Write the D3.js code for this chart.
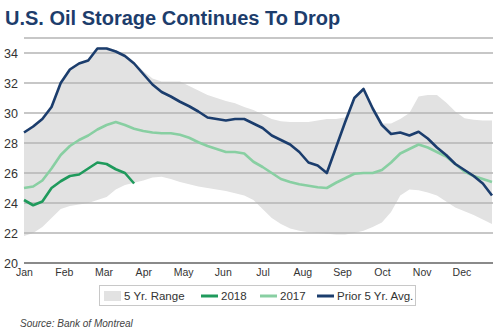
<!DOCTYPE html>
<html><head><meta charset="utf-8">
<script src="https://cdn.jsdelivr.net/npm/d3@7"></script>
<style>
body{margin:0;background:#fff;}
svg{display:block;font-family:"Liberation Sans",Arial,Helvetica,sans-serif;}
</style></head>
<body><svg id="c" width="500" height="332"></svg>
<script>
const months = ["Jan","Feb","Mar","Apr","May","Jun","Jul","Aug","Sep","Oct","Nov","Dec"];
const yTicks = [20,22,24,26,28,30,32,34];
const weeks = d3.range(52);
const avg5 = [28.7,29.1,29.6,30.4,32.0,32.9,33.3,33.5,34.3,34.3,34.1,33.8,33.3,32.6,31.9,31.4,31.1,30.75,30.45,30.1,29.7,29.6,29.5,29.6,29.6,29.3,29.0,28.5,28.2,27.9,27.4,26.7,26.5,26.0,27.7,29.4,31.0,31.6,30.3,29.2,28.6,28.7,28.5,28.75,28.3,27.7,27.2,26.6,26.2,25.8,25.3,24.5];
const y2017 = [25.0,25.1,25.5,26.3,27.2,27.8,28.2,28.5,28.9,29.2,29.4,29.2,28.95,28.8,28.7,28.65,28.65,28.55,28.35,28.05,27.8,27.6,27.4,27.4,27.3,26.75,26.4,26.0,25.6,25.4,25.25,25.15,25.05,25.0,25.35,25.65,25.95,26.0,26.0,26.2,26.7,27.3,27.6,27.9,27.7,27.4,27.1,26.6,26.1,25.8,25.6,25.4];
const y2018 = [24.2,23.85,24.1,25.0,25.45,25.8,25.9,26.3,26.7,26.6,26.25,26.0,25.3];
const rangeHigh = [28.8,29.2,29.7,30.5,32.1,33.0,33.4,33.6,34.4,34.4,34.2,33.9,33.4,32.8,32.3,32.1,32.1,32.1,31.8,31.5,31.2,31.0,30.8,30.65,30.4,30.2,29.9,29.6,29.45,29.4,29.4,29.4,29.5,29.6,29.6,29.7,31.1,31.7,30.5,29.3,29.3,29.6,30.0,31.1,31.2,31.2,30.7,30.1,29.65,29.55,29.5,29.5];
const rangeLow = [21.8,22.0,22.4,23.0,23.6,23.8,23.9,24.0,24.2,24.4,24.9,25.2,25.35,25.5,25.7,25.75,25.6,25.4,25.25,25.1,25.0,24.9,24.8,24.65,24.5,24.2,23.6,23.0,22.6,22.3,22.15,22.05,22.0,21.95,21.9,21.9,22.0,22.15,22.4,22.7,23.4,24.5,24.9,24.85,24.7,24.5,24.1,23.7,23.45,23.2,22.9,22.6];
const legendItems = [
  {label:"5 Yr. Range", type:"area", color:"#e2e2e2"},
  {label:"2018", type:"line", color:"#1f9a5c"},
  {label:"2017", type:"line", color:"#88cfa2"},
  {label:"Prior 5 Yr. Avg.", type:"line", color:"#1b3d6d"}
];

const svg = d3.select("#c");
const x = d3.scaleLinear().domain([0,51]).range([24,492]);
const y = d3.scaleLinear().domain([20,35]).range([263,38]);
const xLeft = 24, xRight = 493;

// title
svg.append("text").attr("x",5).attr("y",25)
  .attr("font-size",20).attr("font-weight","bold").attr("fill","#1d3d6c")
  .text("U.S. Oil Storage Continues To Drop");

// band
svg.append("path").datum(weeks)
  .attr("fill","#e2e2e2")
  .attr("d", d3.area().x(i=>x(i)).y0(i=>y(rangeLow[i])).y1(i=>y(rangeHigh[i]))(weeks));

// grid lines
const gridVals = yTicks.concat([35]);
svg.append("g").selectAll("line").data(gridVals).join("line")
  .attr("x1",xLeft).attr("x2",xRight)
  .attr("y1",d=>y(d)).attr("y2",d=>y(d))
  .attr("stroke",d=>d===20?"#8a8a8a":"#b5b5b5")
  .attr("stroke-width",d=>d===20?2:1.5);

// y axis labels
const yAxis = d3.axisLeft(y).tickValues(yTicks).tickSize(0).tickPadding(6).tickFormat(d3.format("d"));
const gy = svg.append("g").attr("transform",`translate(${xLeft},0)`).call(yAxis);
gy.select(".domain").remove();
gy.selectAll("text").attr("font-size",12.5).attr("fill","#333").attr("font-family","Liberation Sans, Arial, sans-serif");

// x axis labels
const xm = d3.scaleLinear().domain([0,12]).range([x(0), x(52)]);
const xAxis = d3.axisBottom(xm).tickValues(d3.range(12)).tickSize(0).tickPadding(6).tickFormat(i=>months[i]);
const gx = svg.append("g").attr("transform",`translate(0,${y(20)})`).call(xAxis);
gx.select(".domain").remove();
gx.selectAll("text").attr("font-size",10.5).attr("fill","#333").attr("font-family","Liberation Sans, Arial, sans-serif");

// lines
const line = arr => d3.line().x((d,i)=>x(i)).y(d=>y(d))(arr);
svg.append("path").attr("d",line(y2017)).attr("fill","none").attr("stroke","#88cfa2").attr("stroke-width",2.6).attr("stroke-linejoin","round");
svg.append("path").attr("d",line(avg5)).attr("fill","none").attr("stroke","#1b3d6d").attr("stroke-width",2.6).attr("stroke-linejoin","round");
svg.append("path").attr("d",line(y2018)).attr("fill","none").attr("stroke","#1f9a5c").attr("stroke-width",2.6).attr("stroke-linejoin","round");

// legend
const lg = svg.append("g");
lg.append("rect").attr("x",99.5).attr("y",285.5).attr("width",316).attr("height",20)
  .attr("fill","#fff").attr("stroke","#c8c8c8").attr("stroke-width",1);
const lgX = [104, 201, 260, 317];
legendItems.forEach((it,k)=>{
  const g = lg.append("g").attr("transform",`translate(${lgX[k]},296)`);
  if(it.type==="area") g.append("rect").attr("x",0).attr("y",-5).attr("width",17).attr("height",10).attr("fill",it.color);
  else g.append("line").attr("x1",0).attr("x2",17).attr("y1",0).attr("y2",0).attr("stroke",it.color).attr("stroke-width",3);
  g.append("text").attr("x",20).attr("y",4).attr("font-size",11.5).attr("fill","#333").text(it.label);
});

// source
svg.append("text").attr("x",20).attr("y",327).attr("font-size",10).attr("font-style","italic").attr("fill","#444").text("Source: Bank of Montreal");
</script></body></html>
